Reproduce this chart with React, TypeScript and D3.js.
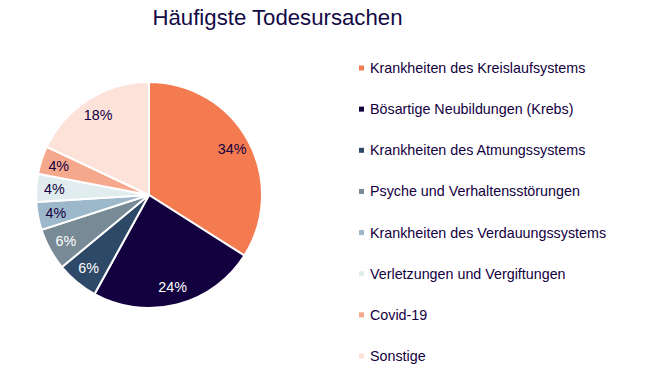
import React from "react";
import * as d3 from "d3";

const categories = [
  "Krankheiten des Kreislaufsystems",
  "Bösartige Neubildungen (Krebs)",
  "Krankheiten des Atmungssystems",
  "Psyche und Verhaltensstörungen",
  "Krankheiten des Verdauungssystems",
  "Verletzungen und Vergiftungen",
  "Covid-19",
  "Sonstige",
];
const values = [34, 24, 6, 6, 4, 4, 4, 18];
const colors = ["#F47A50", "#12003F", "#2E4968", "#778A95", "#9DB8CB", "#E1ECEE", "#F6A88D", "#FDE2DA"];
const labelColors = ["#13003F", "#FFFFFF", "#FFFFFF", "#FFFFFF", "#13003F", "#13003F", "#13003F", "#13003F"];
const title = "Häufigste Todesursachen";

export default function App() {
  const W = 663, H = 369;
  const cx = 149, cy = 195, r = 113;
  const data = categories.map((c, i) => ({ c, v: values[i], i }));
  const pie = d3.pie<any>().value((d) => d.v).sort(null);
  const arcs = pie(data);
  const arc = d3.arc<any>().innerRadius(0).outerRadius(r);
  const labelArc = d3.arc<any>().innerRadius(r * 0.84).outerRadius(r * 0.84);
  const legendY = d3.scaleLinear().domain([0, categories.length - 1]).range([68, 356]);
  const font = "'Liberation Sans', Arial, sans-serif";
  return (
    <svg width={W} height={H} style={{ position: "absolute", left: 0, top: 0, background: "#fff" }} fontFamily={font}>
      <text x={277.5} y={25} textAnchor="middle" fontSize={22.2} fill="#140A46">{title}</text>
      <g transform={`translate(${cx},${cy})`}>
        {arcs.map((a, i) => (
          <path key={i} d={arc(a) as string} fill={colors[i]} stroke="#fff" strokeWidth={2} strokeLinejoin="round" />
        ))}
        {arcs.map((a, i) => {
          const [x, y] = labelArc.centroid(a);
          return (
            <text key={"l" + i} x={x} y={y} textAnchor="middle" dominantBaseline="central" fontSize={14.3} fill={labelColors[i]}>
              {values[i]}%
            </text>
          );
        })}
      </g>
      {categories.map((c, i) => (
        <g key={"lg" + i} transform={`translate(359,${legendY(i)})`}>
          <rect x={0} y={-2.5} width={5} height={5} fill={colors[i]} />
          <text x={11} y={0} dominantBaseline="central" fontSize={14.3} fill="#13003F">{c}</text>
        </g>
      ))}
    </svg>
  );
}
